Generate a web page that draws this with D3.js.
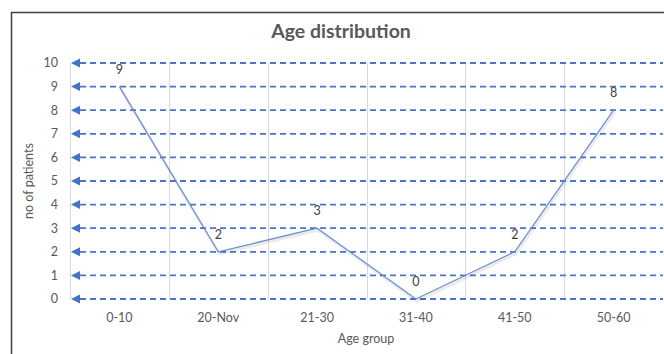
<!DOCTYPE html>
<html><head><meta charset="utf-8">
<script src="https://cdn.jsdelivr.net/npm/d3@7"></script>
<style>
html,body{margin:0;padding:0;background:#fff;}
svg{display:block;}
text{font-family:Lato,"Open Sans",sans-serif;}
</style></head>
<body>
<svg id="chart" width="664" height="354"></svg>
<script>
const categories = ["0-10","20-Nov","21-30","31-40","41-50","50-60"];
const patients = [9,2,3,0,2,8];
const yTicks = [0,1,2,3,4,5,6,7,8,9,10];
const title = "Age distribution";
const xTitle = "Age group";
const yTitle = "no of patients";

(function(){
const svg = d3.select("#chart");
const pL = 70, pR = 663, pT = 63, pB = 299;

// outer border
svg.append("rect").attr("x",11.5).attr("y",12.5).attr("width",700).attr("height",400)
  .attr("fill","none").attr("stroke","#3f3f3f").attr("stroke-width",1.5);

const x = d3.scaleBand().domain(categories).range([pL,pR]).padding(0);
const y = d3.scaleLinear().domain([0,10]).range([pB,pT]);

// vertical gridlines at category boundaries
svg.append("g").selectAll("line").data(categories).join("line")
  .attr("x1",d=>Math.round(x(d))+0.5).attr("x2",d=>Math.round(x(d))+0.5)
  .attr("y1",pT).attr("y2",pB)
  .attr("stroke","#d9d9d9").attr("stroke-width",1);

// horizontal dashed gridlines with arrowheads at left
svg.append("g").selectAll("line").data(yTicks).join("line")
  .attr("x1",pL+10).attr("x2",pR)
  .attr("y1",d=>y(d)).attr("y2",d=>y(d))
  .attr("stroke","#4a76c6").attr("stroke-width",1.8)
  .attr("stroke-dasharray","6,4");
svg.append("g").selectAll("path").data(yTicks).join("path")
  .attr("d",d=>`M${pL+1},${y(d)} L${pL+10},${y(d)-4.5} L${pL+10},${y(d)+4.5} Z`)
  .attr("fill","#4472c4");

// y axis tick labels
svg.append("g").selectAll("text").data(yTicks).join("text")
  .attr("x",58).attr("y",d=>y(d)).attr("dy","0.35em")
  .attr("text-anchor","end").attr("font-size",12.5).attr("fill","#595959")
  .text(d=>d);

// x axis labels
svg.append("g").selectAll("text").data(categories).join("text")
  .attr("x",d=>x(d)+x.bandwidth()/2).attr("y",322)
  .attr("text-anchor","middle").attr("font-size",12.5).attr("fill","#595959")
  .text(d=>d);

// line with subtle shadow
const line = d3.line().x((d,i)=>x(categories[i])+x.bandwidth()/2).y(d=>y(d));
svg.append("path").datum(patients).attr("d",line).attr("fill","none")
  .attr("stroke","#000").attr("stroke-opacity",0.08).attr("stroke-width",3)
  .attr("transform","translate(1,2)");
svg.append("path").datum(patients).attr("d",line).attr("fill","none")
  .attr("stroke","#6b8fd2").attr("stroke-width",1.25).attr("stroke-linejoin","round");

// data labels
svg.append("g").selectAll("text").data(patients).join("text")
  .attr("x",(d,i)=>x(categories[i])+x.bandwidth()/2).attr("y",d=>y(d)-13)
  .attr("text-anchor","middle").attr("font-size",12.5).attr("fill","#404040")
  .text(d=>d);

// titles
svg.append("text").attr("x",341).attr("y",38).attr("text-anchor","middle")
  .attr("font-size",19.5).attr("font-weight","bold").attr("fill","#595959").text(title);
svg.append("text").attr("x",366).attr("y",343).attr("text-anchor","middle")
  .attr("font-size",12.5).attr("fill","#595959").text(xTitle);
svg.append("text").attr("transform","translate(33,181) rotate(-90)").attr("text-anchor","middle")
  .attr("font-size",12.5).attr("fill","#595959").text(yTitle);
})();
</script>
</body></html>
